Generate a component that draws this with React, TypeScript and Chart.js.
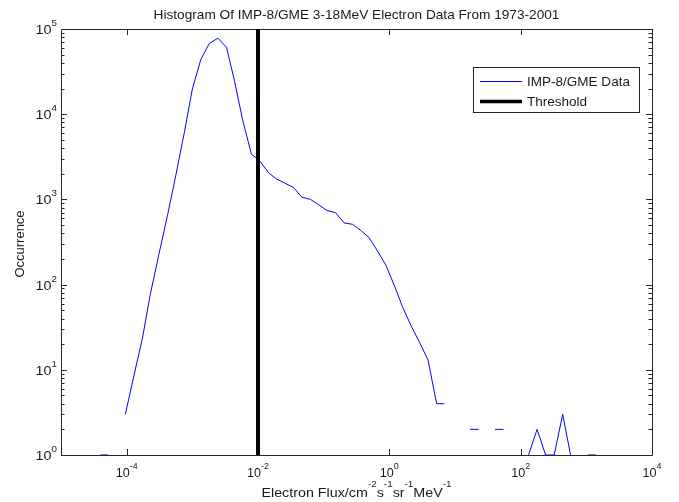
import { useEffect, useRef } from "react";
import { Chart, registerables } from "chart.js";

Chart.register(...registerables);

// Histogram bin centres, as powers of ten of the electron flux
const fluxExponents = [
  -4.40, -4.28, -4.15, -4.02, -3.89, -3.76, -3.64, -3.51, -3.38, -3.25,
  -3.12, -3.00, -2.87, -2.74, -2.61, -2.48, -2.36, -2.23, -2.10, -1.97,
  -1.84, -1.72, -1.59, -1.46, -1.33, -1.20, -1.08, -0.95, -0.82, -0.69,
  -0.56, -0.44, -0.31, -0.18, -0.05, 0.08, 0.20, 0.33, 0.46, 0.59,
  0.72, 0.84, 0.97, 1.10, 1.23, 1.36, 1.48, 1.61, 1.74, 1.87,
  2.00, 2.12, 2.25, 2.38, 2.51, 2.64, 2.76, 2.89, 3.02, 3.15,
];

// Counts per bin (null = empty bin, not drawn on a log axis)
const occurrences: (number | null)[] = [
  1, 1, null, 3, 8.5, 23.5, 77, 225, 640, 1940,
  6200, 19700, 44000, 68000, 78000, 61000, 25000, 8300, 3400, 2800,
  2060, 1740, 1550, 1380, 1060, 1000, 870, 740, 700, 530,
  510, 435, 357, 248, 167, 96, 55, 33, 21, 13,
  4, 4, null, null, 2, 2, null, 2, 2, null,
  null, 1, 2, 1, 1, 3, 1, null, 1, 1,
];

const thresholdFlux = 0.01;

const xTickExponents = [-4, -2, 0, 2, 4];
const yTickExponents = [0, 1, 2, 3, 4, 5];

const titleText = "Histogram Of IMP-8/GME 3-18MeV Electron Data From 1973-2001";
const yLabelText = "Occurrence";
// x label pieces: [text, isSuperscript]
const xLabelParts: [string, boolean][] = [
  ["Electron Flux/cm", false],
  ["-2", true],
  ["s", false],
  ["-1", true],
  ["sr", false],
  ["-1", true],
  ["MeV", false],
  ["-1", true],
];
const seriesName = "IMP-8/GME Data";
const thresholdName = "Threshold";

const FONT = '"Liberation Sans", Arial, Helvetica, sans-serif';
const TEXT_COLOR = "#1a1a1a";
const AXIS_COLOR = "#262626";

// text drawn slightly widened horizontally, left-aligned at (x, y)
function wideText(ctx: CanvasRenderingContext2D, text: string, x: number, y: number, sx: number) {
  ctx.save();
  ctx.translate(x, y);
  ctx.scale(sx, 1);
  ctx.textAlign = "left";
  ctx.fillText(text, 0, 0);
  ctx.restore();
}

function drawPower(
  ctx: CanvasRenderingContext2D,
  exp: number,
  x: number,
  baseline: number,
  align: "center" | "right",
  baseSize: number,
  sx: number
) {
  ctx.font = `${baseSize}px ${FONT}`;
  const baseW = ctx.measureText("10").width * sx;
  ctx.font = `8.5px ${FONT}`;
  const supText = String(exp);
  const supW = ctx.measureText(supText).width * sx;
  const total = baseW + supW;
  const start = align === "center" ? x - total / 2 : x - total;
  ctx.textBaseline = "alphabetic";
  ctx.font = `${baseSize}px ${FONT}`;
  wideText(ctx, "10", start, baseline, sx);
  ctx.font = `8.5px ${FONT}`;
  wideText(ctx, supText, start + baseW, baseline - 8, sx);
}

const matlabAxes = {
  id: "matlabAxes",
  beforeDatasetsDraw(chart: any) {
    const { ctx, chartArea, scales } = chart;
    const { left, right, top, bottom } = chartArea;
    const xs = scales.x;
    const ys = scales.y;
    ctx.save();
    ctx.strokeStyle = AXIS_COLOR;
    ctx.lineWidth = 1;
    ctx.beginPath();
    ctx.rect(Math.round(left) + 0.5, Math.round(top) + 0.5, Math.round(right - left), Math.round(bottom - top));
    ctx.stroke();

    // x ticks, pointing inward on bottom and top
    ctx.beginPath();
    for (const e of xTickExponents) {
      const px = Math.round(xs.getPixelForValue(Math.pow(10, e))) + 0.5;
      ctx.moveTo(px, bottom);
      ctx.lineTo(px, bottom - 6);
      ctx.moveTo(px, top);
      ctx.lineTo(px, top + 6);
    }
    // y ticks: decades plus minor 2..9
    for (let d = 0; d < 5; d++) {
      for (let m = 1; m <= 9; m++) {
        const v = m * Math.pow(10, d);
        const py = Math.round(ys.getPixelForValue(v)) + 0.5;
        const len = m === 1 ? 6 : 3.5;
        ctx.moveTo(left, py);
        ctx.lineTo(left + len, py);
        ctx.moveTo(right, py);
        ctx.lineTo(right - len, py);
      }
    }
    ctx.stroke();
    ctx.restore();
  },
  afterDraw(chart: any) {
    const { ctx, chartArea, scales } = chart;
    const { left, right, top, bottom } = chartArea;
    const xs = scales.x;
    const ys = scales.y;
    ctx.save();
    ctx.fillStyle = TEXT_COLOR;

    // tick labels
    for (const e of xTickExponents) {
      drawPower(ctx, e, xs.getPixelForValue(Math.pow(10, e)), bottom + 22, "center", 12, 1.05);
    }
    for (const e of yTickExponents) {
      drawPower(ctx, e, left - 4, ys.getPixelForValue(Math.pow(10, e)) + 5, "right", 12.5, 1.15);
    }

    // title
    ctx.font = `13px ${FONT}`;
    ctx.textBaseline = "alphabetic";
    const titleSx = 1.05;
    const titleW = ctx.measureText(titleText).width * titleSx;
    wideText(ctx, titleText, (left + right) / 2 - titleW / 2, 19, titleSx);

    // y label
    ctx.save();
    ctx.translate(24, 244);
    ctx.rotate(-Math.PI / 2);
    ctx.font = `13px ${FONT}`;
    ctx.textAlign = "center";
    ctx.fillText(yLabelText, 0, 0);
    ctx.restore();

    // x label with superscripts
    const labelSx = 1.1;
    let total = 0;
    for (const [t, sup] of xLabelParts) {
      ctx.font = sup ? `9px ${FONT}` : `13px ${FONT}`;
      total += ctx.measureText(t).width * labelSx;
    }
    let cx = (left + right) / 2 - total / 2;
    for (const [t, sup] of xLabelParts) {
      ctx.font = sup ? `9px ${FONT}` : `13px ${FONT}`;
      wideText(ctx, t, cx, sup ? 487 : 497, labelSx);
      cx += ctx.measureText(t).width * labelSx;
    }

    // legend box
    const lx = 473.5, ly = 67.5, lw = 166, lh = 45;
    ctx.fillStyle = "#ffffff";
    ctx.fillRect(lx, ly, lw, lh);
    ctx.strokeStyle = AXIS_COLOR;
    ctx.lineWidth = 1;
    ctx.strokeRect(lx, ly, lw, lh);
    ctx.beginPath();
    ctx.strokeStyle = "#0000ff";
    ctx.lineWidth = 1;
    ctx.moveTo(480, 81.5);
    ctx.lineTo(522, 81.5);
    ctx.stroke();
    ctx.beginPath();
    ctx.strokeStyle = "#000000";
    ctx.lineWidth = 3.5;
    ctx.moveTo(480, 101.5);
    ctx.lineTo(522, 101.5);
    ctx.stroke();
    ctx.fillStyle = TEXT_COLOR;
    ctx.font = `13px ${FONT}`;
    ctx.textBaseline = "middle";
    wideText(ctx, seriesName, 527, 82, 1.04);
    wideText(ctx, thresholdName, 527, 102, 1.04);
    ctx.restore();
  },
};

export default function App() {
  const canvasRef = useRef<HTMLCanvasElement | null>(null);

  useEffect(() => {
    document.body.style.margin = "0";
    const canvas = canvasRef.current;
    if (!canvas) return;
    const histogram = fluxExponents.map((e, i) => ({
      x: Math.pow(10, e),
      y: occurrences[i],
    }));
    const chart = new Chart(canvas, {
      type: "line",
      data: {
        datasets: [
          {
            label: thresholdName,
            data: [
              { x: thresholdFlux, y: 1 },
              { x: thresholdFlux, y: 1e5 },
            ],
            borderColor: "#000000",
            borderWidth: 4,
            pointRadius: 0,
            order: 0,
          },
          {
            label: seriesName,
            data: histogram as any,
            borderColor: "#0000ff",
            borderWidth: 1,
            pointRadius: 0,
            spanGaps: false,
            tension: 0,
            order: 1,
          },
        ],
      },
      options: {
        animation: false,
        responsive: false,
        maintainAspectRatio: false,
        devicePixelRatio: 1,
        parsing: false as any,
        layout: { padding: { left: 61, right: 27, top: 29, bottom: 47 } },
        plugins: {
          legend: { display: false },
          title: { display: false },
          tooltip: { enabled: false },
        },
        scales: {
          x: { type: "logarithmic", min: 1e-5, max: 1e4, display: false },
          y: { type: "logarithmic", min: 1, max: 1e5, display: false },
        },
      },
      plugins: [matlabAxes],
    });
    return () => chart.destroy();
  }, []);

  return (
    <div style={{ width: 679, height: 502, background: "#ffffff" }}>
      <canvas ref={canvasRef} width={679} height={502} />
    </div>
  );
}
